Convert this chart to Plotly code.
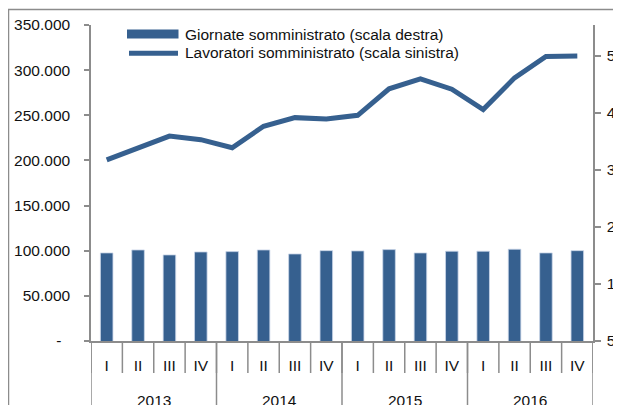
import plotly.graph_objects as go

# ---- data ----
years = ["2013", "2014", "2015", "2016"]
quarters = ["I", "II", "III", "IV"]
lavoratori = [200700, 214100, 227000, 223000, 214100, 237800, 247400, 245900,
              250000, 279300, 290400, 278900, 256300, 291500, 315200, 315600]
giornate = [20.44, 20.96, 20.09, 20.61, 20.67, 20.96, 20.26, 20.84,
            20.79, 21.02, 20.44, 20.74, 20.74, 21.09, 20.44, 20.84]
name_bar = "Giornate somministrato (scala destra)"
name_line = "Lavoratori somministrato (scala sinistra)"
left_tickvals = [0, 50000, 100000, 150000, 200000, 250000, 300000, 350000]
left_ticktext = ["-\u00a0\u00a0", "50.000", "100.000", "150.000", "200.000",
                 "250.000", "300.000", "350.000"]
right_tickvals = [5, 15, 25, 35, 45, 55]

x_quarters = [q for _ in years for q in quarters]
xpos = list(range(len(x_quarters)))
nq = len(quarters)

BLUE = "#36608f"
GRAY = "#8c8c8c"
FONT = "Liberation Sans, Arial, sans-serif"
FS = 15.5

fig = go.Figure()
fig.add_trace(go.Bar(x=xpos, y=giornate, name=name_bar, yaxis="y2",
                     marker=dict(color=BLUE, line=dict(color="#c9d6e8", width=0.8)),
                     width=0.4, showlegend=False))
fig.add_trace(go.Scatter(x=xpos, y=lavoratori, name=name_line, mode="lines",
                         line=dict(color=BLUE, width=5), showlegend=False))

# page has an 8px body margin: figure sits at (8, 8) in the window
OFF = 8
W, H = 621 - OFF, 405 - OFF
L, R, T, B = 91 - OFF, 28, 25 - OFF, 64
pw, ph = W - L - R, H - T - B


def px(rx):  # window pixel x -> paper x
    return (rx - OFF - L) / pw


def py(ry):  # window pixel y -> paper y
    return (H - B - (ry - OFF)) / ph


fig.update_layout(
    width=W, height=H,
    margin=dict(l=L, r=R, t=T, b=B, pad=0, autoexpand=False),
    paper_bgcolor="white", plot_bgcolor="white",
    font=dict(family=FONT, size=FS, color="#111111"),
    xaxis=dict(range=[-0.5, len(xpos) - 0.5], tickvals=xpos, ticktext=x_quarters,
               showline=True, linecolor=GRAY, linewidth=1.5, ticks="",
               showgrid=False, zeroline=False, automargin=False,
               ticklabelstandoff=10),
    yaxis=dict(range=[0, 350000], tickvals=left_tickvals, ticktext=left_ticktext,
               showline=True, linecolor=GRAY, linewidth=1.5, ticks="outside",
               ticklen=5, tickcolor=GRAY, tickwidth=1.5, showgrid=False,
               zeroline=False, ticklabelstandoff=11, automargin=False),
    yaxis2=dict(range=[5, 60.4], tickvals=right_tickvals, overlaying="y", side="right",
                showline=True, linecolor=GRAY, linewidth=1.5, ticks="outside",
                ticklen=6, tickcolor=GRAY, tickwidth=1.5, showgrid=False,
                zeroline=False, ticklabelstandoff=3, automargin=False),
)

# quarter separators (short) and year dividers (long) below the category axis
for k in range(len(xpos) + 1):
    fig.add_shape(type="line", xref="x", yref="paper", x0=k - 0.5, x1=k - 0.5,
                  y0=0, y1=py(373), line=dict(color=GRAY, width=1.5))
for i in range(len(years) + 1):
    fig.add_shape(type="line", xref="x", yref="paper", x0=i * nq - 0.5, x1=i * nq - 0.5,
                  y0=0, y1=py(420), line=dict(color=GRAY, width=1.5))
for i, yr in enumerate(years):
    fig.add_annotation(text=yr, xref="x", yref="paper", x=i * nq + (nq - 1) / 2,
                       y=py(400), xanchor="center", yanchor="middle",
                       showarrow=False, font=dict(size=FS))

# frame around the chart (extends beyond the visible area)
fig.add_shape(type="rect", xref="paper", yref="paper",
              x0=px(8.5), x1=px(700), y0=py(480), y1=py(9.5),
              line=dict(color=GRAY, width=1.5), layer="below")

# legend
fig.add_shape(type="rect", xref="paper", yref="paper",
              x0=px(127), x1=px(178.5), y0=py(38.5), y1=py(29.5),
              fillcolor=BLUE, line=dict(width=0))
fig.add_shape(type="line", xref="paper", yref="paper",
              x0=px(129), x1=px(178), y0=py(53.3), y1=py(53.3),
              line=dict(color=BLUE, width=5))
fig.add_annotation(text=name_bar, xref="paper", yref="paper", x=px(183), y=py(34),
                   xanchor="left", yanchor="middle", showarrow=False,
                   font=dict(size=FS))
fig.add_annotation(text=name_line, xref="paper", yref="paper", x=px(183), y=py(52.5),
                   xanchor="left", yanchor="middle", showarrow=False,
                   font=dict(size=FS))

fig.write_html("out.html")
